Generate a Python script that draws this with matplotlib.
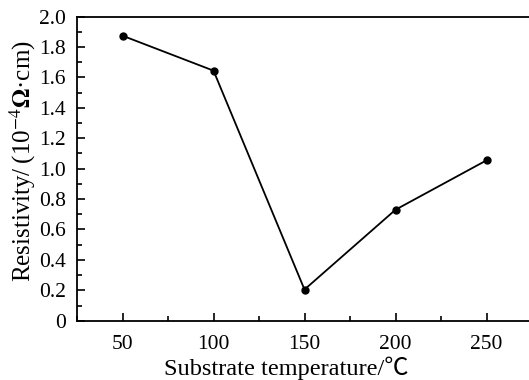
import matplotlib
matplotlib.use("Agg")
import matplotlib.pyplot as plt
import matplotlib.ticker as ticker

plt.rcParams["font.family"] = ["Liberation Serif", "Noto Sans CJK JP", "DejaVu Serif"]
plt.rcParams["mathtext.fontset"] = "stix"

# Data
temperature = [50, 100, 150, 200, 250]
resistivity = [1.875, 1.645, 0.205, 0.73, 1.055]

fig = plt.figure(figsize=(5.29, 3.80), dpi=100)
ax = fig.add_axes([77 / 529, 59.3 / 380, 455 / 529, 304 / 380])

ax.plot(temperature, resistivity, color="black", linewidth=1.3,
        marker="o", markersize=5, zorder=3)

ax.set_xlim(25, 275)
ax.set_ylim(0, 2.0)

ax.xaxis.set_major_locator(ticker.MultipleLocator(50))
ax.xaxis.set_minor_locator(ticker.MultipleLocator(25))
ax.yaxis.set_major_locator(ticker.MultipleLocator(0.2))
ax.yaxis.set_minor_locator(ticker.MultipleLocator(0.1))


def format_y(y, pos):
    if abs(y) < 1e-9:
        return "0"
    return f"{y:.1f}"


ax.yaxis.set_major_formatter(ticker.FuncFormatter(format_y))

ax.tick_params(which="both", direction="in", width=1.2, labelsize=15.5,
               top=False, right=False)
ax.tick_params(which="major", length=6)
ax.tick_params(axis="x", which="major", pad=10)
ax.tick_params(axis="y", which="major", pad=8)
ax.tick_params(which="minor", length=3.5)

for side in ["left", "bottom", "top"]:
    ax.spines[side].set_linewidth(1.3)
ax.spines["right"].set_visible(False)

ax.set_xlabel("Substrate temperature/\u2103", fontsize=17.5)
ax.set_ylabel("Resistivity/$\\;$(10$^{-4}$$\\mathbf{\\Omega}$·cm)", fontsize=18)
ax.xaxis.set_label_coords(0.459, -0.118)
ax.yaxis.set_label_coords(-0.086, 0.525)

fig.savefig("out.png", dpi=100, facecolor="white")
